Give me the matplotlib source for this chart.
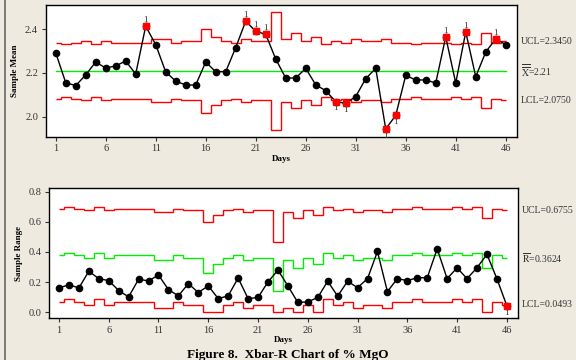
import numpy as np
import matplotlib
matplotlib.use("Agg")
import matplotlib.pyplot as plt
from matplotlib.lines import Line2D

plt.rcParams["font.family"] = ["Liberation Serif", "DejaVu Serif"]
plt.rcParams["mathtext.fontset"] = "stix"

# sample means per day
days = np.arange(1, 47)
xbar = [2.293, 2.156, 2.142, 2.191, 2.250, 2.223, 2.232, 2.255, 2.195, 2.414,
        2.330, 2.205, 2.163, 2.145, 2.145, 2.250, 2.206, 2.206, 2.316, 2.437,
        2.391, 2.377, 2.264, 2.177, 2.177, 2.221, 2.146, 2.119, 2.069, 2.061,
        2.092, 2.174, 2.221, 1.944, 2.006, 2.189, 2.168, 2.168, 2.154, 2.365,
        2.154, 2.388, 2.183, 2.296, 2.356, 2.330]

# sample ranges per day
rng = [0.161, 0.183, 0.161, 0.272, 0.223, 0.210, 0.144, 0.102, 0.219, 0.208,
       0.247, 0.150, 0.109, 0.190, 0.131, 0.175, 0.091, 0.109, 0.227, 0.091,
       0.098, 0.201, 0.280, 0.175, 0.065, 0.069, 0.098, 0.206, 0.107, 0.206,
       0.163, 0.223, 0.403, 0.137, 0.223, 0.210, 0.229, 0.229, 0.421, 0.223,
       0.295, 0.223, 0.295, 0.384, 0.223, 0.043]

# subgroup size per day (limits step with it)
n_size = [9, 10, 9, 8, 10, 8, 9, 9, 9, 9, 7, 7, 9, 8, 8, 4, 6, 8, 9, 7,
          8, 8, 2, 7, 5, 8, 6, 10, 8, 9, 7, 8, 8, 7, 9, 9, 10, 9, 9, 9,
          10, 9, 10, 5, 9, 8]

# control limits read for each subgroup size
xbar_center = 2.21
xbar_ucl_by_n = {2: 2.480, 4: 2.401, 5: 2.381, 6: 2.366, 7: 2.354, 8: 2.345, 9: 2.337, 10: 2.331}
xbar_lcl_by_n = {2: 1.940, 4: 2.019, 5: 2.039, 6: 2.054, 7: 2.066, 8: 2.075, 9: 2.083, 10: 2.089}
r_ucl_by_n = {2: 0.469, 4: 0.598, 5: 0.626, 6: 0.646, 7: 0.662, 8: 0.6755, 9: 0.687, 10: 0.696}
r_cl_by_n = {2: 0.144, 4: 0.262, 5: 0.296, 6: 0.323, 7: 0.344, 8: 0.3624, 9: 0.378, 10: 0.392}
r_lcl_by_n = {2: 0.0, 4: 0.0, 5: 0.0, 6: 0.0, 7: 0.026, 8: 0.0493, 9: 0.0695, 10: 0.087}

xbar_flags = [10, 20, 21, 22, 29, 30, 34, 35, 40, 42, 45]
xbar_flags_below = [29, 30, 34, 35]
r_flags = [46]

xticks = [1, 6, 11, 16, 21, 26, 31, 36, 41, 46]

BG = "#EEEAE0"
RED = "#FF0000"
GREEN = "#00EE00"
TXT = "#333333"

fig = plt.figure(figsize=(5.76, 3.6), dpi=100, facecolor=BG)
ax1 = fig.add_axes([0.0793, 0.6203, 0.8187, 0.3658])
ax2 = fig.add_axes([0.0851, 0.1158, 0.8147, 0.3628])

edges = np.concatenate([[1], np.arange(1.5, 46, 1.0), [46]])


def steps(ax, table, color):
    vals = [table[n] for n in n_size]
    ax.stairs(vals, edges, baseline=None, color=color, lw=1.0, zorder=2)


def style(ax, yticks, ylim):
    ax.set_xlim(0, 47.15)
    ax.set_ylim(*ylim)
    ax.set_xticks(xticks)
    ax.set_yticks(yticks)
    ax.tick_params(labelsize=7.5, colors=TXT, length=3, width=0.8, pad=2.5)
    for s in ax.spines.values():
        s.set_linewidth(1.0)
    ax.set_xlabel("Days", fontsize=6.5, fontweight="bold", labelpad=1)


def side_label(ax, y, s):
    ax.text(1.008, y, s, transform=ax.get_yaxis_transform(), fontsize=7,
            va="center", color=TXT)


# Xbar chart
steps(ax1, xbar_ucl_by_n, RED)
steps(ax1, xbar_lcl_by_n, RED)
ax1.plot([1, 46], [xbar_center, xbar_center], color=GREEN, lw=1.0, zorder=2)
ax1.plot(days, xbar, "-o", color="black", lw=1.0, ms=4.5, zorder=3)
for d in xbar_flags:
    y = xbar[d - 1]
    ax1.plot(d, y, "s", color=RED, ms=5, zorder=4)
    if d in xbar_flags_below:
        ax1.text(d, y - 0.012, "1", fontsize=6.5, ha="center", va="top", color=TXT)
    else:
        ax1.text(d, y + 0.01, "1", fontsize=6.5, ha="center", va="bottom", color=TXT)
style(ax1, [2.0, 2.2, 2.4], (1.9085, 2.511))
ax1.set_ylabel("Sample Mean", fontsize=6.5, fontweight="bold", labelpad=4)
ax1.yaxis.set_major_formatter(matplotlib.ticker.FormatStrFormatter("%.1f"))
side_label(ax1, 2.345, "UCL=2.3450")
side_label(ax1, 2.21, r"$\overline{\overline{\mathrm{X}}}$=2.21")
side_label(ax1, 2.075, "LCL=2.0750")

# R chart
steps(ax2, r_ucl_by_n, RED)
steps(ax2, r_cl_by_n, GREEN)
steps(ax2, r_lcl_by_n, RED)
ax2.plot(days, rng, "-o", color="black", lw=1.0, ms=4.5, zorder=3)
for d in r_flags:
    y = rng[d - 1]
    ax2.plot(d, y, "s", color=RED, ms=5, zorder=4)
    ax2.text(d, y - 0.02, "1", fontsize=6.5, ha="center", va="top", color=TXT)
style(ax2, [0.0, 0.2, 0.4, 0.6, 0.8], (-0.04, 0.826))
ax2.set_ylabel("Sample Range", fontsize=6.5, fontweight="bold", labelpad=4)
side_label(ax2, 0.6755, "UCL=0.6755")
side_label(ax2, 0.3624, r"$\overline{\mathrm{R}}$=0.3624")
side_label(ax2, 0.0493, "LCL=0.0493")

fig.add_artist(Line2D([0.009, 0.009], [0, 1], color="#666666", lw=1.2))
fig.text(0.5, 1 - 349 / 360, "Figure 8.  Xbar-R Chart of % MgO", fontsize=9.5,
         fontweight="bold", ha="center", va="top")

fig.savefig("out.png", dpi=100, facecolor=BG)
